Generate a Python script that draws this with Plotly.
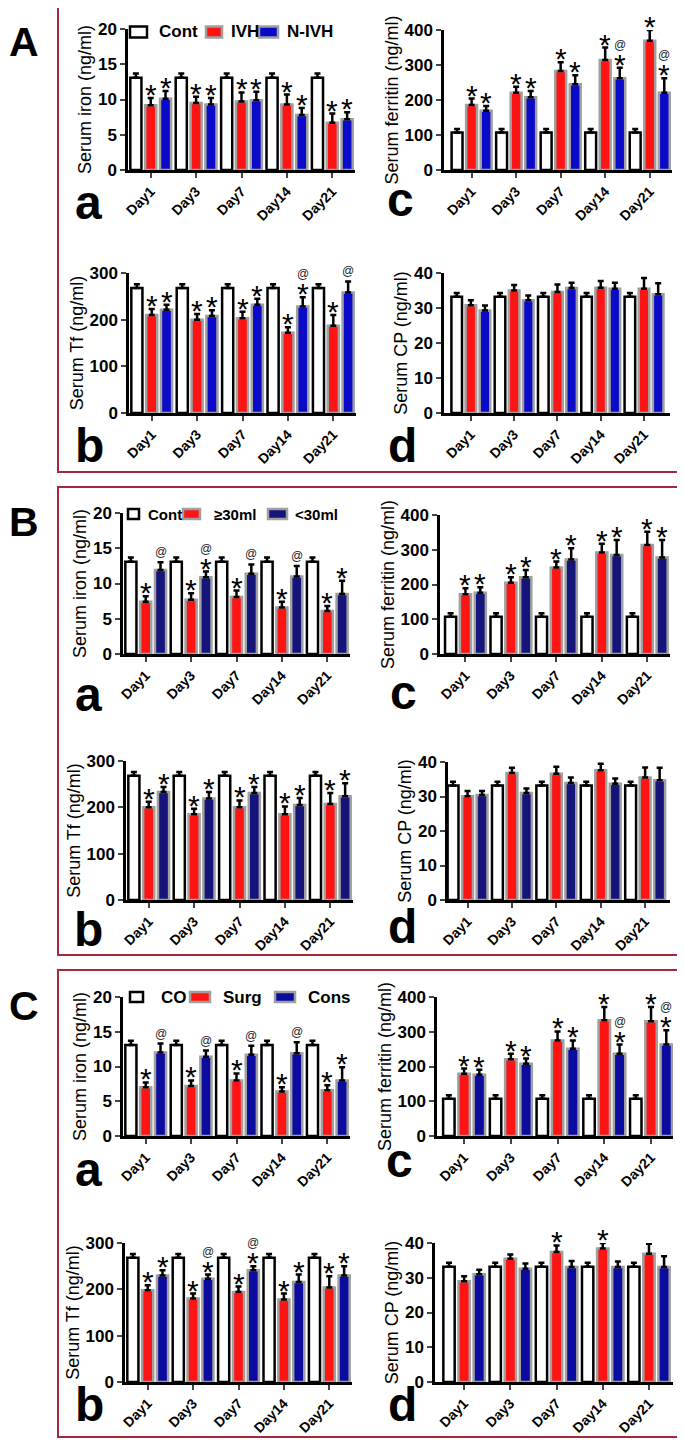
import plotly.graph_objects as go

W, H = 685, 1441
OFF = 8  # the page puts the figure 8 px in from the top-left corner

days = ["Day1", "Day3", "Day7", "Day14", "Day21"]

names_A = ["Cont", "IVH", "N-IVH"]
names_B = ["Cont", "≥30ml", "<30ml"]
names_C = ["CO", "Surg", "Cons"]

# control group, same in every panel
ctrl_iron = [13.1, 13.1, 13.1, 13.1, 13.1]
ctrl_iron_err = [0.6, 0.6, 0.6, 0.6, 0.6]
ctrl_ferritin = [107, 107, 107, 107, 107]
ctrl_ferritin_err = [10, 10, 10, 10, 10]
ctrl_tf = [268, 268, 268, 268, 268]
ctrl_tf_err = [8, 8, 8, 8, 8]
ctrl_cp = [33.2, 33.2, 33.2, 33.2, 33.2]
ctrl_cp_err = [1.1, 1.1, 1.1, 1.1, 1.1]

# A: IVH / N-IVH
A_iron_1 = [9.2, 9.5, 9.7, 9.3, 6.7]
A_iron_1_err = [1.0, 0.9, 1.3, 1.4, 1.3]
A_iron_2 = [10.1, 9.3, 9.9, 7.8, 7.2]
A_iron_2_err = [1.1, 0.9, 1.2, 1.0, 1.0]
A_iron_m1 = ["*", "*", "*", "*", "*"]
A_iron_m2 = ["*", "*", "*", "*", "*"]

A_fer_1 = [186, 221, 283, 314, 369]
A_fer_1_err = [18, 17, 25, 36, 31]
A_fer_2 = [169, 208, 245, 262, 221]
A_fer_2_err = [14, 18, 26, 30, 41]
A_fer_m1 = ["*", "*", "*", "*", "*"]
A_fer_m2 = ["*", "*", "*", "@*", "@*"]

A_tf_1 = [210, 200, 203, 172, 187]
A_tf_1_err = [13, 12, 14, 12, 23]
A_tf_2 = [221, 208, 232, 228, 258]
A_tf_2_err = [11, 12, 13, 20, 24]
A_tf_m1 = ["*", "*", "*", "*", "*"]
A_tf_m2 = ["*", "*", "*", "@*", "@"]

A_cp_1 = [30.8, 35.0, 34.6, 35.8, 35.5]
A_cp_1_err = [1.4, 1.6, 2.1, 1.9, 3.1]
A_cp_2 = [29.3, 32.2, 35.7, 35.5, 33.9]
A_cp_2_err = [1.4, 1.4, 1.5, 1.7, 3.2]
A_cp_m1 = ["", "", "", "", ""]
A_cp_m2 = ["", "", "", "", ""]

# B: >=30ml / <30ml
B_iron_1 = [7.4, 7.7, 8.1, 6.6, 6.1]
B_iron_1_err = [0.8, 0.9, 0.9, 0.8, 0.7]
B_iron_2 = [11.9, 10.9, 11.4, 11.0, 8.5]
B_iron_2_err = [1.1, 0.8, 1.3, 1.5, 1.9]
B_iron_m1 = ["*", "*", "*", "*", "*"]
B_iron_m2 = ["@", "@*", "@", "@", "*"]

B_fer_1 = [172, 205, 249, 292, 314]
B_fer_1_err = [17, 16, 17, 25, 38]
B_fer_2 = [176, 221, 272, 285, 278]
B_fer_2_err = [16, 21, 32, 43, 50]
B_fer_m1 = ["*", "*", "*", "*", "*"]
B_fer_m2 = ["*", "*", "*", "*", "*"]

B_tf_1 = [200, 185, 200, 185, 207]
B_tf_1_err = [12, 12, 15, 17, 24]
B_tf_2 = [233, 219, 231, 205, 224]
B_tf_2_err = [11, 14, 13, 15, 28]
B_tf_m1 = ["*", "*", "*", "*", "*"]
B_tf_m2 = ["*", "*", "*", "*", "*"]

B_cp_1 = [30.1, 36.8, 36.6, 37.6, 35.5]
B_cp_1_err = [1.5, 1.5, 2.0, 1.9, 2.9]
B_cp_2 = [30.4, 31.0, 33.9, 33.7, 34.7]
B_cp_2_err = [1.2, 1.3, 1.6, 1.5, 3.6]
B_cp_m1 = ["", "", "", "", ""]
B_cp_m2 = ["", "", "", "", ""]

# C: Surg / Cons
C_iron_1 = [7.0, 7.2, 8.0, 6.4, 6.6]
C_iron_1_err = [0.7, 0.8, 1.0, 0.6, 0.7]
C_iron_2 = [12.0, 11.4, 11.7, 11.9, 8.0]
C_iron_2_err = [1.3, 0.9, 1.3, 1.6, 1.9]
C_iron_m1 = ["*", "*", "*", "*", "*"]
C_iron_m2 = ["@", "@", "@", "@", "*"]

C_fer_1 = [179, 221, 275, 333, 330]
C_fer_1_err = [15, 16, 26, 38, 41]
C_fer_2 = [176, 208, 251, 237, 263]
C_fer_2_err = [15, 15, 24, 26, 41]
C_fer_m1 = ["*", "*", "*", "*", "*"]
C_fer_m2 = ["*", "*", "*", "@*", "@*"]

C_tf_1 = [198, 180, 194, 178, 204]
C_tf_1_err = [11, 11, 12, 13, 24]
C_tf_2 = [230, 223, 241, 216, 230]
C_tf_2_err = [11, 9, 9, 16, 20]
C_tf_m1 = ["*", "*", "*", "*", "*"]
C_tf_m2 = ["*", "@*", "@*", "*", "*"]

C_cp_1 = [29.0, 35.5, 37.4, 38.4, 36.9]
C_cp_1_err = [1.4, 1.2, 1.9, 1.6, 2.9]
C_cp_2 = [31.0, 32.6, 33.1, 33.1, 33.1]
C_cp_2_err = [1.3, 1.5, 1.7, 1.6, 3.1]
C_cp_m1 = ["", "", "*", "*", ""]
C_cp_m2 = ["", "", "", "", ""]

titles = {"iron": "Serum iron (ng/ml)", "fer": "Serum ferritin (ng/ml)",
          "tf": "Serum Tf (ng/ml)", "cp": "Serum CP (ng/ml)"}
yscale = {"iron": (20, 5), "fer": (400, 100), "tf": (300, 100), "cp": (40, 10)}
ctrl = {"iron": (ctrl_iron, ctrl_iron_err), "fer": (ctrl_ferritin, ctrl_ferritin_err),
        "tf": (ctrl_tf, ctrl_tf_err), "cp": (ctrl_cp, ctrl_cp_err)}

# panel, sub-letter, measure, group1, err1, group2, err2, marks1, marks2
charts = [
    ("A", "a", "iron", A_iron_1, A_iron_1_err, A_iron_2, A_iron_2_err, A_iron_m1, A_iron_m2),
    ("A", "c", "fer", A_fer_1, A_fer_1_err, A_fer_2, A_fer_2_err, A_fer_m1, A_fer_m2),
    ("A", "b", "tf", A_tf_1, A_tf_1_err, A_tf_2, A_tf_2_err, A_tf_m1, A_tf_m2),
    ("A", "d", "cp", A_cp_1, A_cp_1_err, A_cp_2, A_cp_2_err, A_cp_m1, A_cp_m2),
    ("B", "a", "iron", B_iron_1, B_iron_1_err, B_iron_2, B_iron_2_err, B_iron_m1, B_iron_m2),
    ("B", "c", "fer", B_fer_1, B_fer_1_err, B_fer_2, B_fer_2_err, B_fer_m1, B_fer_m2),
    ("B", "b", "tf", B_tf_1, B_tf_1_err, B_tf_2, B_tf_2_err, B_tf_m1, B_tf_m2),
    ("B", "d", "cp", B_cp_1, B_cp_1_err, B_cp_2, B_cp_2_err, B_cp_m1, B_cp_m2),
    ("C", "a", "iron", C_iron_1, C_iron_1_err, C_iron_2, C_iron_2_err, C_iron_m1, C_iron_m2),
    ("C", "c", "fer", C_fer_1, C_fer_1_err, C_fer_2, C_fer_2_err, C_fer_m1, C_fer_m2),
    ("C", "b", "tf", C_tf_1, C_tf_1_err, C_tf_2, C_tf_2_err, C_tf_m1, C_tf_m2),
    ("C", "d", "cp", C_cp_1, C_cp_1_err, C_cp_2, C_cp_2_err, C_cp_m1, C_cp_m2),
]

# layout in page pixels: x0, x1, y_top, y_bottom, xmin, xmax
boxes = {
    ("A", "a"): (128, 355, 29, 170, -0.5, 4.5),
    ("A", "c"): (444, 672, 30, 170, -0.62, 4.5),
    ("A", "b"): (129, 356, 273, 413, -0.5, 4.5),
    ("A", "d"): (444, 670, 273, 413, -0.62, 4.6),
    ("B", "a"): (123, 350, 513, 654, -0.5, 4.5),
    ("B", "c"): (440, 670, 515, 654, -0.56, 4.5),
    ("B", "b"): (126, 353, 761, 900, -0.5, 4.5),
    ("B", "d"): (448, 670, 762, 900, -0.44, 4.56),
    ("C", "a"): (123, 350, 997, 1136, -0.5, 4.5),
    ("C", "c"): (437, 673, 997, 1136, -0.58, 4.47),
    ("C", "b"): (125, 352, 1243, 1382, -0.5, 4.5),
    ("C", "d"): (435, 673, 1243, 1382, -0.63, 4.52),
}
# sub-letter x centre and baseline
letter_pos = {
    ("A", "a"): (88, 220), ("A", "c"): (400, 217), ("A", "b"): (89, 463), ("A", "d"): (402, 463),
    ("B", "a"): (88, 712), ("B", "c"): (404, 710), ("B", "b"): (88, 947), ("B", "d"): (402, 944),
    ("C", "a"): (88, 1187), ("C", "c"): (399, 1178), ("C", "b"): (89, 1422), ("C", "d"): (402, 1422),
}
# legend key boxes (x0, x1) and text left edge, per panel; plus y centre, box height, font size
panels = {
    "A": dict(names=names_A, blue="#0a0ac8", frame=(58, 2, 682, 472), letter=(24, 58),
              keys=[(130, 147), (206, 222), (259, 278)], texts=[157, 229, 285], ly=32, kh=11, fs=17),
    "B": dict(names=names_B, blue="#14147a", frame=(58, 487, 682, 955), letter=(24, 538),
              keys=[(128, 139), (183, 200), (268, 287)], texts=[146, 212, 293], ly=514, kh=10, fs=15),
    "C": dict(names=names_C, blue="#0b0ba0", frame=(58, 970, 682, 1437), letter=(24, 1022),
              keys=[(130, 143), (190, 210), (275, 295)], texts=[159, 221, 306], ly=997, kh=10, fs=17),
}

RED = "#ff1414"
GREY = "#a0a0a0"
FONT = "Arial, Liberation Sans, sans-serif"
BARGAP = 0.02
slot = (1 - BARGAP) / 3

FW, FH = W - OFF, H - OFF

def px(x):
    return (x - OFF) / FW

def py(y):
    return 1 - (y - OFF) / FH

fig = go.Figure()
layout = {}

for n, (panel, sub, meas, g1, e1, g2, e2, m1, m2) in enumerate(charts, start=1):
    xa = "x" if n == 1 else "x%d" % n
    ya = "y" if n == 1 else "y%d" % n
    x0, x1, yt, yb, xmin, xmax = boxes[(panel, sub)]
    p = panels[panel]
    c, ce = ctrl[meas]
    series = [
        (p["names"][0], c, ce, "white", "black"),
        (p["names"][1], g1, e1, RED, GREY),
        (p["names"][2], g2, e2, p["blue"], GREY),
    ]
    for name, vals, errs, fill, edge in series:
        fig.add_trace(go.Bar(
            x=list(range(len(days))), y=vals, name=name,
            marker=dict(color=fill, line=dict(color=edge, width=2.5)),
            error_y=dict(type="data", array=errs, arrayminus=[0] * len(errs), symmetric=False,
                         color="black", thickness=2.5, width=3),
            xaxis=xa, yaxis=ya, showlegend=False,
            cliponaxis=False, hoverinfo="skip",
        ))

    ymax, dtick = yscale[meas]
    key = n if n > 1 else ""
    layout["xaxis%s" % key] = dict(
        domain=[px(x0), px(x1)], range=[xmin, xmax], anchor=ya, automargin=False,
        showline=True, linecolor="black", linewidth=2.5, ticks="outside", ticklen=5, tickwidth=2,
        tickvals=list(range(len(days))), ticktext=days, tickangle=-45,
        tickfont=dict(family=FONT, size=14, color="black", weight="bold"),
        showgrid=False, zeroline=False, fixedrange=True,
    )
    layout["yaxis%s" % key] = dict(
        domain=[py(yb), py(yt)], range=[0, ymax], dtick=dtick, anchor=xa, automargin=False,
        showline=True, linecolor="black", linewidth=2.5, ticks="outside", ticklen=5, tickwidth=2,
        tickfont=dict(family=FONT, size=17, color="black", weight="bold"),
        title=dict(text=titles[meas], font=dict(family=FONT, size=18, color="black"), standoff=2),
        showgrid=False, zeroline=False, fixedrange=True,
    )

    # significance marks
    for k, (vals, errs, marks) in enumerate([(g1, e1, m1), (g2, e2, m2)], start=1):
        for i, mk in enumerate(marks):
            top = vals[i] + errs[i]
            xpos = i + (k - 1) * slot
            if "*" in mk:
                fig.add_annotation(x=xpos, y=top, xref=xa, yref=ya, text="*", showarrow=False,
                                   yanchor="bottom", yshift=-15,
                                   font=dict(family=FONT, size=30, color="black"))
            if "@" in mk:
                fig.add_annotation(x=xpos, y=top, xref=xa, yref=ya, text="@", showarrow=False,
                                   yanchor="bottom", yshift=14 if "*" in mk else 1,
                                   font=dict(family=FONT, size=12, color="#222222"))

    lx, lb = letter_pos[(panel, sub)]
    fig.add_annotation(x=px(lx), y=py(lb + 11), xref="paper", yref="paper", text="<b>%s</b>" % sub,
                       showarrow=False, xanchor="center", yanchor="bottom",
                       font=dict(family=FONT, size=48, color="black"))

shapes = []
for name, p in panels.items():
    fx0, fy0, fx1, fy1 = p["frame"]
    shapes.append(dict(type="rect", xref="paper", yref="paper", x0=px(fx0), x1=px(fx1),
                       y0=py(fy1), y1=py(fy0), line=dict(color="#a8283a", width=2)))
    lx, lb = p["letter"]
    fig.add_annotation(x=px(lx), y=py(lb + 9), xref="paper", yref="paper", text="<b>%s</b>" % name,
                       showarrow=False, xanchor="center", yanchor="bottom",
                       font=dict(family=FONT, size=41, color="black"))
    # legend drawn as keys + labels
    fills = ["white", RED, p["blue"]]
    edges = ["black", GREY, GREY]
    ly, kh = p["ly"], p["kh"]
    for (kx0, kx1), tx, label, fc, ec in zip(p["keys"], p["texts"], p["names"], fills, edges):
        shapes.append(dict(type="rect", xref="paper", yref="paper", x0=px(kx0), x1=px(kx1),
                           y0=py(ly + kh / 2), y1=py(ly - kh / 2), fillcolor=fc,
                           line=dict(color=ec, width=2.5)))
        fig.add_annotation(x=px(tx), y=py(ly), xref="paper", yref="paper", text="<b>%s</b>" % label,
                           showarrow=False, xanchor="left", yanchor="middle",
                           font=dict(family=FONT, size=p["fs"], color="black"))

fig.update_layout(
    width=FW, height=FH, margin=dict(l=0, r=0, t=0, b=0, autoexpand=False),
    paper_bgcolor="white", plot_bgcolor="white", showlegend=False,
    barmode="group", bargap=BARGAP, bargroupgap=0.25,
    shapes=shapes,
    **layout,
)

fig.write_html("out.html")
